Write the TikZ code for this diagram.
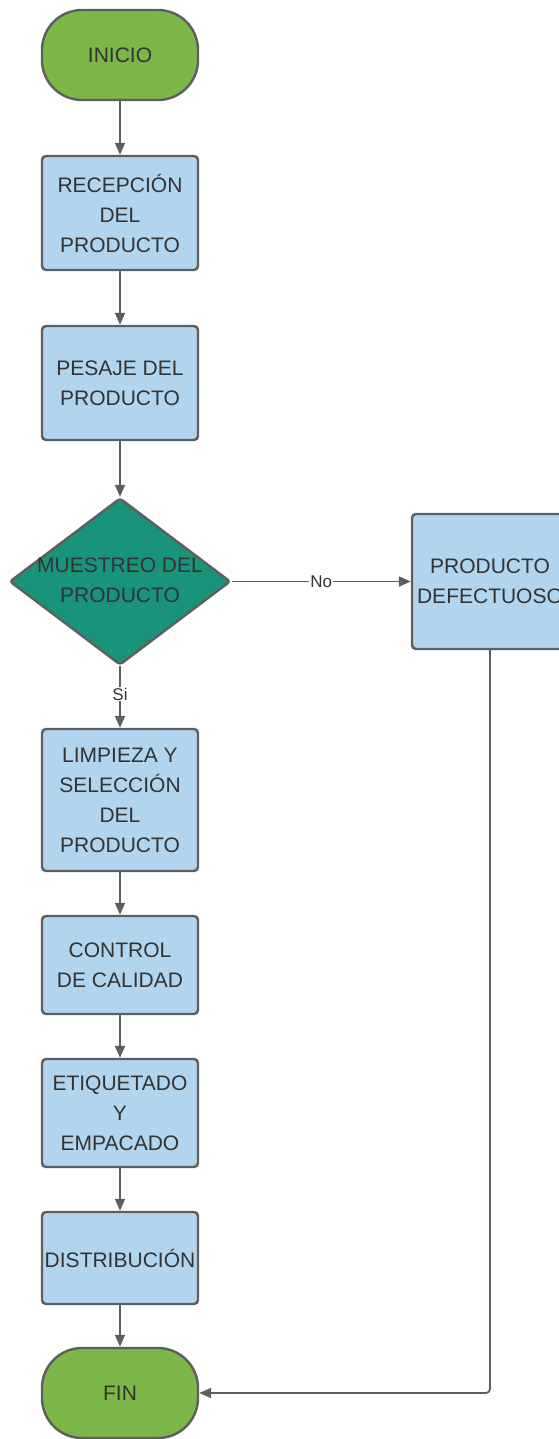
\documentclass[tikz,border=0pt]{standalone}
\usepackage{fontspec}
\setmainfont{Liberation Sans}
\usetikzlibrary{shapes.geometric,arrows.meta}
\definecolor{termgreen}{HTML}{7AB648}
\definecolor{boxblue}{HTML}{B1D5EF}
\definecolor{teal}{HTML}{1A937B}
\definecolor{edge}{HTML}{5E5E5E}
\definecolor{ink}{HTML}{333333}
\tikzset{
  base/.style={draw=edge, line width=2.4pt, inner sep=0pt, text=ink, align=center,
    font=\fontsize{21}{30}\selectfont},
  term/.style={base, fill=termgreen, rectangle, rounded corners=40pt, minimum width=156pt, minimum height=90pt},
  proc/.style={base, fill=boxblue, rectangle, rounded corners=4pt, minimum width=156pt},
  decis/.style={draw=edge, line width=2.4pt, fill=teal, diamond, inner sep=0pt, rounded corners=3pt,
    minimum width=221pt, minimum height=167pt},
  txt/.style={text=ink, align=center, inner sep=0pt, font=\fontsize{21}{30}\selectfont},
  conn/.style={draw=edge, line width=1.8pt, -{Triangle[length=12pt,width=10pt]}},
  lbl/.style={fill=white, text=ink, inner sep=1pt, font=\fontsize{17}{20}\selectfont}
}
\begin{document}
\begin{tikzpicture}[x=1pt,y=1pt]
\useasboundingbox (0,0) rectangle (559,-1439);
\clip (0,0) rectangle (559,-1439);
\node[term] (ini) at (120,-55) {INICIO};
\node[proc, minimum height=114pt] (rec) at (120,-213) {RECEPCIÓN\\DEL\\PRODUCTO};
\node[proc, minimum height=114pt] (pes) at (120,-383) {PESAJE DEL\\PRODUCTO};
\node[decis] (mue) at (120,-581.5) {};
\node[txt] (muet) at (120,-580) {MUESTREO DEL\\PRODUCTO};
\node[proc, minimum height=135pt] (def) at (490,-581.5) {PRODUCTO\\DEFECTUOSO};
\node[proc, minimum height=142pt] (lim) at (120,-800) {LIMPIEZA Y\\SELECCIÓN\\DEL\\PRODUCTO};
\node[proc, minimum height=98pt] (con) at (120,-965) {CONTROL\\DE CALIDAD};
\node[proc, minimum height=108pt] (eti) at (120,-1113) {ETIQUETADO\\Y\\EMPACADO};
\node[proc, minimum height=92pt] (dis) at (120,-1258) {DISTRIBUCIÓN};
\node[term, minimum height=90pt] (fin) at (120,-1393) {FIN};
\draw[conn] (ini) -- (rec);
\draw[conn] (rec) -- (pes);
\draw[conn] (pes) -- (mue);
\draw[conn] (mue.east) -- node[lbl] {No} (def.west);
\draw[conn] (mue.south) -- node[lbl, pos=0.45] {Si} (lim.north);
\draw[conn] (lim) -- (con);
\draw[conn] (con) -- (eti);
\draw[conn] (eti) -- (dis);
\draw[conn] (dis) -- (fin);
\draw[conn, rounded corners=4pt] (def.south) |- (fin.east);
\end{tikzpicture}
\end{document}
